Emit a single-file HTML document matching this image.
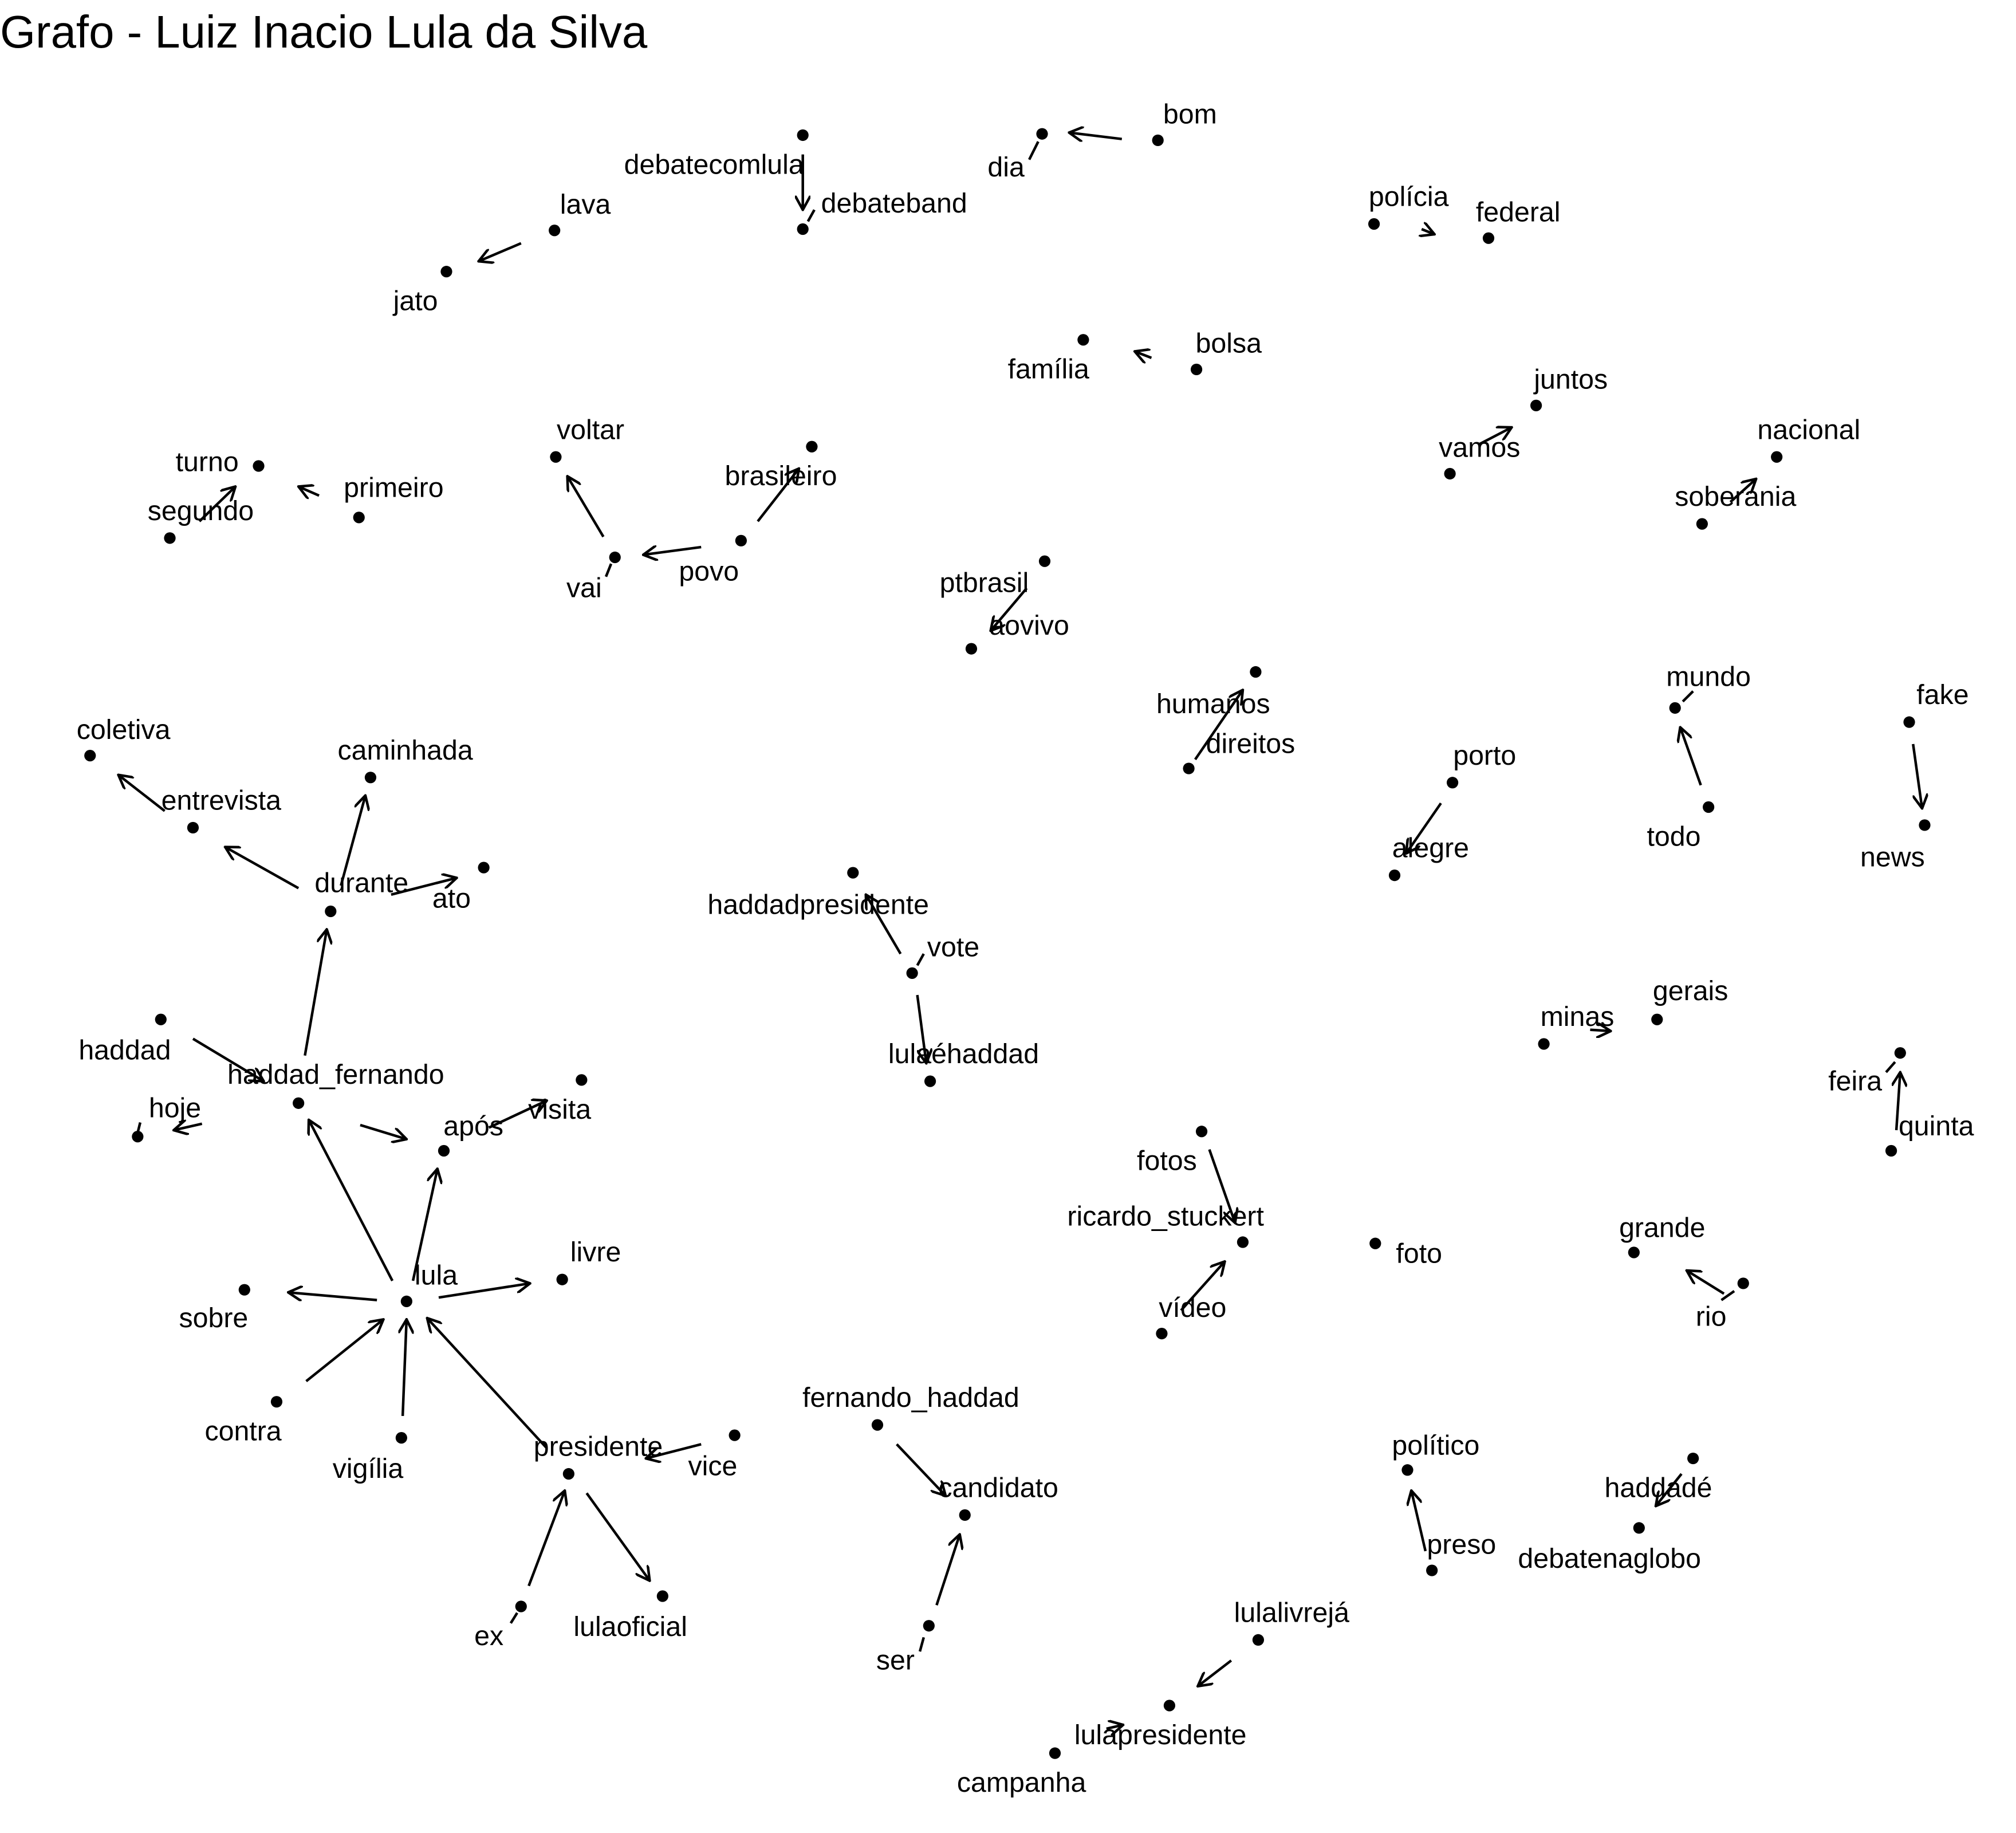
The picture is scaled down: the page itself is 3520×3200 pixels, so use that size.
<!DOCTYPE html>
<html><head><meta charset="utf-8"><style>
html,body{margin:0;padding:0;background:#fff;}
svg{display:block;}
text{font-family:"Liberation Sans",Arial,sans-serif;font-size:21.5px;fill:#000;text-anchor:middle;}
</style></head><body>
<svg width="3520" height="3200" viewBox="0 0 1567 1424" preserveAspectRatio="none" xmlns="http://www.w3.org/2000/svg">
<defs><marker id="a" viewBox="0 0 12 12" refX="11" refY="6" markerWidth="12" markerHeight="12" markerUnits="userSpaceOnUse" orient="auto"><path d="M0,0 L11,6 L0,12" fill="none" stroke="#000" stroke-width="2"/></marker></defs>
<rect width="1567" height="1424" fill="#fff"/>
<text x="0" y="37" style="font-size:35.5px;text-anchor:start">Grafo - Luiz Inacio Lula da Silva</text>
<g stroke="#000" stroke-width="2" fill="none" marker-end="url(#a)">
<line x1="872" y1="108" x2="831" y2="103"/>
<line x1="624" y1="120" x2="624" y2="163"/>
<line x1="405" y1="189" x2="372" y2="203"/>
<line x1="1105" y1="178" x2="1115" y2="182"/>
<line x1="895" y1="278" x2="882" y2="273"/>
<line x1="1150" y1="345" x2="1175" y2="332"/>
<line x1="1345" y1="390" x2="1365" y2="372"/>
<line x1="155" y1="405" x2="183" y2="378"/>
<line x1="248" y1="385" x2="232" y2="378"/>
<line x1="469" y1="417" x2="441" y2="370"/>
<line x1="545" y1="425" x2="500" y2="431"/>
<line x1="589" y1="405" x2="621" y2="364"/>
<line x1="798" y1="457" x2="770" y2="490"/>
<line x1="929" y1="590" x2="966" y2="536"/>
<line x1="1322" y1="610" x2="1306" y2="565"/>
<line x1="1487" y1="578" x2="1494" y2="628"/>
<line x1="1120" y1="624" x2="1093" y2="663"/>
<line x1="128" y1="630" x2="92" y2="602"/>
<line x1="232" y1="690" x2="175" y2="658"/>
<line x1="265" y1="688" x2="284" y2="618"/>
<line x1="304" y1="695" x2="355" y2="682"/>
<line x1="700" y1="741" x2="673" y2="695"/>
<line x1="713" y1="773" x2="720" y2="826"/>
<line x1="1236" y1="800" x2="1252" y2="801"/>
<line x1="1474" y1="878" x2="1477" y2="833"/>
<line x1="150" y1="807" x2="205" y2="840"/>
<line x1="237" y1="820" x2="254" y2="722"/>
<line x1="157" y1="873" x2="135" y2="878"/>
<line x1="280" y1="874" x2="316" y2="885"/>
<line x1="380" y1="876" x2="425" y2="855"/>
<line x1="305" y1="995" x2="240" y2="870"/>
<line x1="321" y1="995" x2="340" y2="908"/>
<line x1="341" y1="1008" x2="412" y2="997"/>
<line x1="293" y1="1010" x2="224" y2="1004"/>
<line x1="238" y1="1073" x2="298" y2="1025"/>
<line x1="313" y1="1100" x2="316" y2="1025"/>
<line x1="425" y1="1125" x2="332" y2="1024"/>
<line x1="545" y1="1122" x2="502" y2="1133"/>
<line x1="411" y1="1232" x2="439" y2="1158"/>
<line x1="456" y1="1160" x2="505" y2="1228"/>
<line x1="940" y1="893" x2="960" y2="950"/>
<line x1="918" y1="1018" x2="952" y2="980"/>
<line x1="1340" y1="1005" x2="1311" y2="987"/>
<line x1="697" y1="1122" x2="735" y2="1162"/>
<line x1="728" y1="1247" x2="746" y2="1192"/>
<line x1="1108" y1="1205" x2="1097" y2="1158"/>
<line x1="1307" y1="1145" x2="1287" y2="1170"/>
<line x1="957" y1="1290" x2="931" y2="1310"/>
<line x1="860" y1="1343" x2="873" y2="1340"/>
</g>
<g stroke="#000" stroke-width="2">
<line x1="800" y1="124" x2="807" y2="110"/>
<line x1="628" y1="172" x2="633" y2="163"/>
<line x1="471" y1="448" x2="475" y2="438"/>
<line x1="1308" y1="545" x2="1316" y2="537"/>
<line x1="713" y1="750" x2="718" y2="741"/>
<line x1="1466" y1="833" x2="1473" y2="825"/>
<line x1="106" y1="884" x2="109" y2="872"/>
<line x1="397" y1="1261" x2="402" y2="1253"/>
<line x1="1338" y1="1010" x2="1348" y2="1003"/>
<line x1="715" y1="1283" x2="718" y2="1272"/>
</g>
<g fill="#000">
<circle cx="900" cy="109" r="4.5"/><circle cx="810" cy="104" r="4.5"/><circle cx="624" cy="105" r="4.5"/><circle cx="624" cy="178" r="4.5"/>
<circle cx="431" cy="179" r="4.5"/><circle cx="347" cy="211" r="4.5"/><circle cx="1068" cy="174" r="4.5"/><circle cx="1157" cy="185" r="4.5"/>
<circle cx="930" cy="287" r="4.5"/><circle cx="842" cy="264" r="4.5"/><circle cx="1194" cy="315" r="4.5"/><circle cx="1127" cy="368" r="4.5"/>
<circle cx="1381" cy="355" r="4.5"/><circle cx="1323" cy="407" r="4.5"/><circle cx="201" cy="362" r="4.5"/><circle cx="132" cy="418" r="4.5"/>
<circle cx="279" cy="402" r="4.5"/><circle cx="432" cy="355" r="4.5"/><circle cx="478" cy="433" r="4.5"/><circle cx="576" cy="420" r="4.5"/>
<circle cx="631" cy="347" r="4.5"/><circle cx="812" cy="436" r="4.5"/><circle cx="755" cy="504" r="4.5"/><circle cx="976" cy="522" r="4.5"/>
<circle cx="924" cy="597" r="4.5"/><circle cx="1302" cy="550" r="4.5"/><circle cx="1328" cy="627" r="4.5"/><circle cx="1484" cy="561" r="4.5"/>
<circle cx="1496" cy="641" r="4.5"/><circle cx="1129" cy="608" r="4.5"/><circle cx="1084" cy="680" r="4.5"/><circle cx="70" cy="587" r="4.5"/>
<circle cx="150" cy="643" r="4.5"/><circle cx="288" cy="604" r="4.5"/><circle cx="257" cy="708" r="4.5"/><circle cx="376" cy="674" r="4.5"/>
<circle cx="663" cy="678" r="4.5"/><circle cx="709" cy="756" r="4.5"/><circle cx="723" cy="840" r="4.5"/><circle cx="1200" cy="811" r="4.5"/>
<circle cx="1288" cy="792" r="4.5"/><circle cx="1477" cy="818" r="4.5"/><circle cx="1470" cy="894" r="4.5"/><circle cx="125" cy="792" r="4.5"/>
<circle cx="232" cy="857" r="4.5"/><circle cx="107" cy="883" r="4.5"/><circle cx="345" cy="894" r="4.5"/><circle cx="452" cy="839" r="4.5"/>
<circle cx="316" cy="1011" r="4.5"/><circle cx="437" cy="994" r="4.5"/><circle cx="190" cy="1002" r="4.5"/><circle cx="215" cy="1089" r="4.5"/>
<circle cx="312" cy="1117" r="4.5"/><circle cx="442" cy="1145" r="4.5"/><circle cx="571" cy="1115" r="4.5"/><circle cx="405" cy="1248" r="4.5"/>
<circle cx="515" cy="1240" r="4.5"/><circle cx="934" cy="879" r="4.5"/><circle cx="966" cy="965" r="4.5"/><circle cx="903" cy="1036" r="4.5"/>
<circle cx="1069" cy="966" r="4.5"/><circle cx="1270" cy="973" r="4.5"/><circle cx="1355" cy="997" r="4.5"/><circle cx="682" cy="1107" r="4.5"/>
<circle cx="750" cy="1177" r="4.5"/><circle cx="722" cy="1263" r="4.5"/><circle cx="1094" cy="1142" r="4.5"/><circle cx="1113" cy="1220" r="4.5"/>
<circle cx="1316" cy="1133" r="4.5"/><circle cx="1274" cy="1187" r="4.5"/><circle cx="978" cy="1274" r="4.5"/><circle cx="909" cy="1325" r="4.5"/>
<circle cx="820" cy="1362" r="4.5"/>
</g>
<g>
<text x="925" y="96">bom</text><text x="782" y="137">dia</text><text x="555" y="135">debatecomlula</text><text x="695" y="165">debateband</text>
<text x="455" y="166">lava</text><text x="323" y="241">jato</text><text x="1095" y="160">polícia</text><text x="1180" y="172">federal</text>
<text x="815" y="294">família</text><text x="955" y="274">bolsa</text><text x="1221" y="302">juntos</text><text x="1150" y="355">vamos</text>
<text x="1406" y="341">nacional</text><text x="1349" y="393">soberania</text><text x="161" y="366">turno</text><text x="156" y="404">segundo</text>
<text x="306" y="386">primeiro</text><text x="459" y="341">voltar</text><text x="607" y="377">brasileiro</text><text x="454" y="464">vai</text>
<text x="551" y="451">povo</text><text x="765" y="460">ptbrasil</text><text x="800" y="493">aovivo</text><text x="943" y="554">humanos</text>
<text x="972" y="585">direitos</text><text x="1328" y="533">mundo</text><text x="1301" y="657">todo</text><text x="1510" y="547">fake</text>
<text x="1471" y="673">news</text><text x="1154" y="594">porto</text><text x="1112" y="666">alegre</text><text x="96" y="574">coletiva</text>
<text x="172" y="629">entrevista</text><text x="315" y="590">caminhada</text><text x="281" y="693">durante</text><text x="351" y="705">ato</text>
<text x="636" y="710">haddadpresidente</text><text x="741" y="743">vote</text><text x="749" y="826">lulaéhaddad</text><text x="1226" y="797">minas</text>
<text x="1314" y="777">gerais</text><text x="1442" y="847">feira</text><text x="1505" y="882">quinta</text><text x="97" y="823">haddad</text>
<text x="261" y="842">haddad_fernando</text><text x="136" y="868">hoje</text><text x="368" y="882">após</text><text x="435" y="869">visita</text>
<text x="463" y="980">livre</text><text x="339" y="998">lula</text><text x="166" y="1031">sobre</text><text x="189" y="1119">contra</text>
<text x="286" y="1148">vigília</text><text x="465" y="1131">presidente</text><text x="554" y="1146">vice</text><text x="380" y="1278">ex</text>
<text x="490" y="1271">lulaoficial</text><text x="907" y="909">fotos</text><text x="906" y="952">ricardo_stuckert</text><text x="927" y="1023">vídeo</text>
<text x="1103" y="981">foto</text><text x="1292" y="961">grande</text><text x="1330" y="1030">rio</text><text x="708" y="1093">fernando_haddad</text>
<text x="776" y="1163">candidato</text><text x="696" y="1297">ser</text><text x="1116" y="1130">político</text><text x="1136" y="1207">preso</text>
<text x="1289" y="1163">haddadé</text><text x="1251" y="1218">debatenaglobo</text><text x="1004" y="1260">lulalivrejá</text><text x="902" y="1355">lulapresidente</text>
<text x="794" y="1392">campanha</text>
</g>
</svg>
</body></html>
